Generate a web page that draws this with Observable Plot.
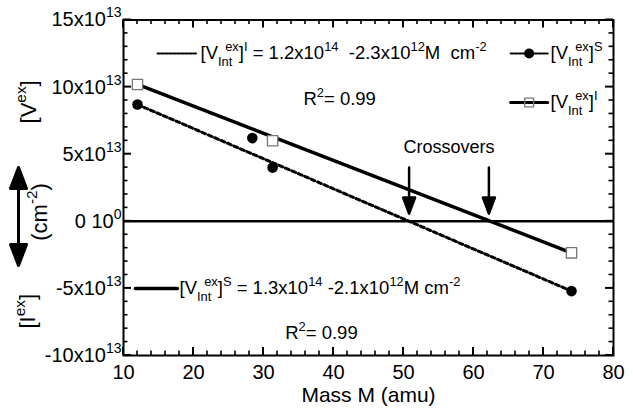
<!DOCTYPE html>
<html>
<head>
<meta charset="utf-8">
<script src="https://cdn.jsdelivr.net/npm/d3@7"></script>
<script src="https://cdn.jsdelivr.net/npm/@observablehq/plot@0.6"></script>
<style>
  html, body { margin: 0; padding: 0; background: white; }
  svg text { white-space: pre; }
</style>
</head>
<body>
<script>
// ---- data (y in units of 10^13 cm^-2) ----
const squareMass = [12, 31.3, 74];
const squareV = [10.2, 6.0, -2.35];
const circleMass = [12, 28.4, 31.3, 74];
const circleV = [8.7, 6.2, 4.0, -5.2];
// fitted lines (end points)
const fitMass = [12, 74];
const fitSolidV = [10.2, -2.35];
const fitDottedV = [8.7, -5.2];

// ticks
const xTicks = [10, 20, 30, 40, 50, 60, 70, 80];
const xMinor = [12, 14, 16, 18, 22, 24, 26, 28, 32, 34, 36, 38, 42, 44, 46, 48, 52, 54, 56, 58, 62, 64, 66, 68, 72, 74, 76, 78];
const yTicks = [-10, -5, 0, 5, 10, 15];
const yTickLabels = ["-10x10^{13}", "-5x10^{13}", "0 10^{0}", "5x10^{13}", "10x10^{13}", "15x10^{13}"];
const yMinor = [-9, -8, -7, -6, -4, -3, -2, -1, 1, 2, 3, 4, 6, 7, 8, 9, 11, 12, 13, 14];

// annotations
const annoText = [
  "[V_{Int}^{ex}]^{I} = 1.2x10^{14}  -2.3x10^{12}M  cm^{-2}",
  "R^{2}= 0.99",
  "[V_{Int}^{ex}]^{S}",
  "[V_{Int}^{ex}]^{I}",
  "[V_{Int}^{ex}]^{S} = 1.3x10^{14} -2.1x10^{12}M cm^{-2}",
  "R^{2}= 0.99"
];
const annoX = [21.0, 35.7, 71.0, 71.0, 18.0, 33.1];
const annoY = [12.5, 9.08, 12.5, 8.85, -5.0, -8.36];

const crossText = ["Crossovers"];
const crossTextX = [56.5];
const crossTextY = [5.5];
const crossArrowX = [50.8, 62.2];
const crossArrowY = [4.0, 4.0];

const yLabelText = ["[V^{ex}]", "(cm^{-2})", "[I^{ex}]"];
const yLabelX = [-3.5, -2.0, -3.6];
const yLabelY = [8.9, 0.7, -6.7];

// legend samples
const legDotX = [14.86, 20.57], legDotY = [12.5, 12.5];
const legRightX = [65.3, 70.6], legRightMarkX = [67.95];
const legCircY = [12.5, 12.5], legSqY = [8.85, 8.85];
const legBotX = [11.7, 17.7], legBotY = [-5.0, -5.0];

const font = "'Liberation Sans', Arial, Helvetica, sans-serif";

const downArrow = {
  draw(ctx, l) {
    ctx.moveTo(0, 0); ctx.lineTo(0, -(l - 14));
    ctx.moveTo(-6, -(l - 16)); ctx.lineTo(0, -l); ctx.lineTo(6, -(l - 16)); ctx.closePath();
  }
};
const doubleArrow = {
  draw(ctx, l) {
    const h = 21, w = 8;
    ctx.moveTo(0, -h + 2); ctx.lineTo(0, -l + h - 2);
    ctx.moveTo(-w, -l + h); ctx.lineTo(0, -l); ctx.lineTo(w, -l + h); ctx.closePath();
    ctx.moveTo(-w, -h); ctx.lineTo(0, 0); ctx.lineTo(w, -h); ctx.closePath();
  }
};

const pts = (xs, ys) => xs.map((x, i) => ({x, y: ys[i]}));

const chart = Plot.plot({
  width: 633,
  height: 418,
  marginLeft: 123,
  marginRight: 20,
  marginTop: 19.5,
  marginBottom: 63,
  x: {domain: [10, 80]},
  y: {domain: [-10, 15]},
  style: {fontFamily: font, fontSize: "19px", color: "black", background: "white", overflow: "visible"},
  marks: [
    Plot.frame({stroke: "black", fill: "none", strokeWidth: 2}),
    // tick labels
    Plot.axisX({ticks: xTicks, tickSize: 0, tickPadding: 9, tickFormat: d => String(d), fontSize: 20, label: null}),
    Plot.axisY({ticks: yTicks, tickSize: 0, tickPadding: 2, tickFormat: d => yTickLabels[yTicks.indexOf(d)], fontSize: 20, label: null}),
    Plot.ruleY([0], {stroke: "black", strokeWidth: 2.5}),
    // fitted lines
    Plot.line(pts(fitMass, fitSolidV), {x: "x", y: "y", stroke: "black", strokeWidth: 3.5}),
    Plot.line(pts(fitMass, fitDottedV), {x: "x", y: "y", stroke: "black", strokeWidth: 3, strokeDasharray: "4 3"}),
    // data markers
    Plot.dot(pts(circleMass, circleV), {x: "x", y: "y", r: 5.3, fill: "black", stroke: "none"}),
    Plot.dot(pts(squareMass, squareV), {x: "x", y: "y", symbol: "square", r: 5.8, fill: "white", stroke: "#777", strokeWidth: 1.3}),
    // legend samples
    Plot.line(pts(legDotX, legDotY), {x: "x", y: "y", stroke: "black", strokeWidth: 2, strokeDasharray: "2.5 1.5"}),
    Plot.line(pts(legRightX, legCircY), {x: "x", y: "y", stroke: "black", strokeWidth: 2, strokeDasharray: "2.5 1.5"}),
    Plot.dot(pts(legRightMarkX, [legCircY[0]]), {x: "x", y: "y", r: 5, fill: "black"}),
    Plot.line(pts(legRightX, legSqY), {x: "x", y: "y", stroke: "black", strokeWidth: 3}),
    Plot.dot(pts(legRightMarkX, [legSqY[0]]), {x: "x", y: "y", symbol: "square", r: 5, fill: "none", stroke: "#777", strokeWidth: 1.3}),
    Plot.line(pts(legBotX, legBotY), {x: "x", y: "y", stroke: "black", strokeWidth: 3.5}),
    // annotation texts
    Plot.text(annoText, {x: (d, i) => annoX[i], y: (d, i) => annoY[i], text: d => d, textAnchor: "start", fontSize: 18.5, fill: "black"}),
    Plot.text(crossText, {x: (d, i) => crossTextX[i], y: (d, i) => crossTextY[i], text: d => d, fontSize: 18, fill: "black"}),
    Plot.vector(pts(crossArrowX, crossArrowY), {x: "x", y: "y", length: 46, rotate: 180, anchor: "start", shape: downArrow, stroke: "black", fill: "black", strokeWidth: 2.5}),
    // y-axis label
    Plot.text(yLabelText, {x: (d, i) => yLabelX[i], y: (d, i) => yLabelY[i], text: d => d, rotate: -90, fontSize: 22, fill: "black"}),
    Plot.vector([{x: -5.0, y: 0.36}], {x: "x", y: "y", length: 98, anchor: "middle", shape: doubleArrow, stroke: "black", fill: "black", strokeWidth: 3}),
    // x-axis label
    Plot.text(["Mass M (amu)"], {frameAnchor: "bottom", dy: 46, text: d => d, fontSize: 21, fill: "black"})
  ]
});

document.body.append(chart);

// inward ticks on all four sides, positioned through the plot's own scales
const sx = chart.scale("x"), sy = chart.scale("y");
const X = v => sx.apply(v), Y = v => sy.apply(v);
const x0 = X(10), x1 = X(80), y0 = Y(-10), y1 = Y(15);
const tg = d3.select(chart).append("g").attr("stroke", "black").attr("fill", "none");
function addTicks(vals, len, w) {
  for (const v of vals) {
    const px = X(v);
    tg.append("line").attr("x1", px).attr("x2", px).attr("y1", y0).attr("y2", y0 - len).attr("stroke-width", w);
    tg.append("line").attr("x1", px).attr("x2", px).attr("y1", y1).attr("y2", y1 + len).attr("stroke-width", w);
  }
}
function addYTicks(vals, len, w) {
  for (const v of vals) {
    const py = Y(v);
    tg.append("line").attr("x1", x0).attr("x2", x0 + len).attr("y1", py).attr("y2", py).attr("stroke-width", w);
    tg.append("line").attr("x1", x1).attr("x2", x1 - len).attr("y1", py).attr("y2", py).attr("stroke-width", w);
  }
}
addTicks(xTicks, 8, 2); addTicks(xMinor, 4.5, 1.6);
addYTicks(yTicks, 8, 2); addYTicks(yMinor, 4.5, 1.6);

// rich text: ^{...} superscript, _{...} subscript (sub followed by sup stacks)
const NS = "http://www.w3.org/2000/svg";
function rich(el) {
  const s = el.textContent;
  if (!/[\^_]\{/.test(s)) return;
  const parts = [];
  const re = /([\^_])\{([^}]*)\}/g;
  let last = 0, m;
  while ((m = re.exec(s))) {
    if (m.index > last) parts.push({t: s.slice(last, m.index)});
    parts.push({t: m[2], k: m[1]});
    last = re.lastIndex;
  }
  if (last < s.length) parts.push({t: s.slice(last)});
  el.textContent = "";
  const fs = parseFloat(getComputedStyle(el).fontSize) || 17;
  let cur = 0, prev = null, first = true;
  for (const p of parts) {
    const ts = document.createElementNS(NS, "tspan");
    ts.textContent = p.t;
    const target = p.k === "^" ? -0.45 * fs : p.k === "_" ? 0.36 * fs : 0;
    if (!(first && target === 0)) ts.setAttribute("dy", (target - cur).toFixed(2));
    cur = target;
    if (p.k) ts.setAttribute("font-size", (0.7 * fs).toFixed(1));
    el.appendChild(ts);
    if (p.k === "^" && prev && prev.k === "_") {
      ts.setAttribute("dx", (-0.5 * prev.el.getComputedTextLength()).toFixed(2));
    }
    prev = {k: p.k, el: ts};
    first = false;
  }
}
chart.querySelectorAll("text").forEach(rich);
</script>
</body>
</html>
